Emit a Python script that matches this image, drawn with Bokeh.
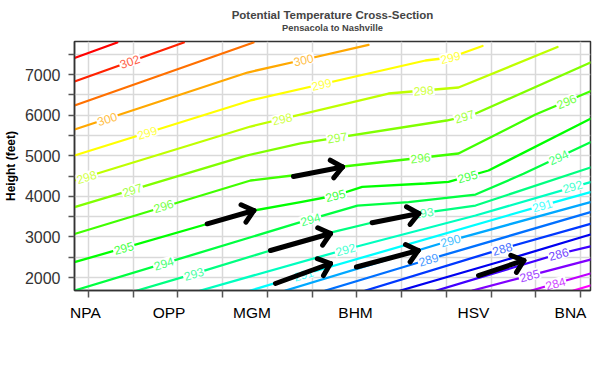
import math
from bokeh.plotting import figure
from bokeh.models import FixedTicker, Range1d, Title
from bokeh.core.properties import value
from bokeh.embed import file_html
from bokeh.resources import INLINE

FONT = "Liberation Sans"

# ---- axes ----
stations = ["NPA", "OPP", "MGM", "BHM", "HSV", "BNA"]
station_x = [-0.07, 1.80, 3.655, 5.97, 8.607, 10.776]
dist_ticks = list(range(0, 12))
height_ticks = [2000, 3000, 4000, 5000, 6000, 7000]
height_minor = [2500, 3500, 4500, 5500, 6500, 7500]
x_lo, x_hi = -0.313, 11.223
h_lo, h_hi = 1680, 7813

# ---- contour lines (distance units, height in feet) ----
x_303 = [-0.313, 0.642]; h_303 = [7406, 7788]
x_302 = [-0.313, 2.131]; h_302 = [6828, 7788]
x_301 = [-0.313, 3.689]; h_301 = [6236, 7788]
x_300 = [-0.313, 3.555, 4.740, 6.260]; h_300 = [5645, 7049, 7345, 7727]
x_299 = [-0.313, 3.622, 7.534, 8.093, 8.808]; h_299 = [5005, 6360, 7345, 7419, 7702]
x_298 = [-0.313, 3.622, 6.707, 8.272, 10.485]; h_298 = [4389, 5719, 6532, 6680, 7677]
x_297 = [-0.313, 3.510, 4.740, 8.004, 8.607, 11.223]; h_297 = [3732, 4998, 5301, 5867, 6015, 7296]
x_296 = [-0.313, 3.622, 4.740, 5.701, 8.272, 9.993, 11.223]; h_296 = [3072, 4389, 4537, 4734, 5054, 6015, 6589]
x_295 = [-0.313, 3.696, 4.740, 5.522, 6.119, 7.534, 8.048, 8.943, 11.223]; h_295 = [2377, 3650, 3855, 4020, 4234, 4315, 4357, 4636, 5909]
x_294 = [-0.313, 4.740, 6.014, 7.154, 8.652, 9.725, 11.223]; h_294 = [1680, 3362, 3773, 3855, 4044, 4554, 5333]
x_293 = [1.089, 2.354, 4.069, 5.410, 6.349, 7.378, 8.652, 11.223]; h_293 = [1680, 2091, 2665, 3108, 3355, 3576, 3773, 4709]
x_292 = [2.504, 5.746, 8.652, 11.223]; h_292 = [1680, 2690, 3527, 4347]
x_291 = [3.622, 4.807, 10.143, 11.223]; h_291 = [1680, 2074, 3773, 4101]
x_290 = [4.404, 8.093, 11.223]; h_290 = [1680, 2911, 3855]
x_289 = [5.298, 7.601, 11.223]; h_289 = [1680, 2443, 3608]
x_288 = [6.193, 9.249, 11.223]; h_288 = [1680, 2707, 3323]
x_287 = [6.975, 9.211, 11.223]; h_287 = [1680, 2394, 3059]
x_286 = [7.780, 10.508, 11.223]; h_286 = [1680, 2579, 2764]
x_285 = [8.585, 9.859, 11.223]; h_285 = [1680, 2049, 2443]
x_284 = [9.904, 10.440, 11.223]; h_284 = [1680, 1852, 2099]
x_283 = [10.843, 11.223]; h_283 = [1680, 1803]

levels = [303, 302, 301, 300, 299, 298, 297, 296, 295, 294, 293,
          292, 291, 290, 289, 288, 287, 286, 285, 284, 283]
level_colors = ["#FF0000", "#FF2200", "#FF7000", "#FFA800", "#FFFF00", "#BFFF00",
                "#80FF00", "#40FF00", "#00FF00", "#00FF40", "#00FF80", "#00FFBF",
                "#00FFFF", "#00A8FF", "#0070FF", "#0038FF", "#0000F0", "#4000FF",
                "#8000FF", "#BF00FF", "#FF00FF"]
line_xs = [x_303, x_302, x_301, x_300, x_299, x_298, x_297, x_296, x_295, x_294, x_293,
           x_292, x_291, x_290, x_289, x_288, x_287, x_286, x_285, x_284, x_283]
line_hs = [h_303, h_302, h_301, h_300, h_299, h_298, h_297, h_296, h_295, h_294, h_293,
           h_292, h_291, h_290, h_289, h_288, h_287, h_286, h_285, h_284, h_283]

# ---- contour labels ----
lab_level = [302, 300, 300, 299, 299, 299, 298, 298, 298, 297, 297, 297,
             296, 296, 296, 295, 295, 295, 294, 294, 294, 293, 293,
             292, 292, 291, 291, 290, 289, 288, 286, 285, 284]
lab_x = [0.923, 0.418, 4.807, 1.312, 5.209, 8.093, -0.045, 4.331, 7.489, 0.977, 5.560, 8.406,
         1.677, 7.422, 10.687, 0.789, 5.522, 8.473, 1.683, 4.963, 10.508, 2.354, 7.489,
         5.746, 10.821, 4.807, 10.143, 8.093, 7.601, 9.249, 10.508, 9.859, 10.440]
lab_h = [7320, 5905, 7362, 5564, 6759, 7419, 4475, 5906, 6606, 4157, 5448, 5966,
         3761, 4948, 6337, 2727, 4020, 4488, 2345, 3434, 4961, 2091, 3594,
         2690, 4241, 2074, 3773, 2911, 2443, 2707, 2579, 2049, 1852]
lab_angle = [19.6, 18.2, 12.8, 17.4, 12.9, 14, 17, 13.4, 4.9, 16.7, 9, 18,
             17, 6.5, 23, 16, 14, 15.5, 17, 16, 25, 16.5, 8,
             15.5, 16, 16.5, 16, 16, 16.5, 16, 15, 15, 16]

# ---- hand-drawn arrows (start -> tip) ----
arrow_x0 = [2.654, 4.069, 4.180, 4.583, 6.342, 5.990, 8.719]
arrow_h0 = [3323, 2665, 1852, 4488, 3347, 2259, 2049]
arrow_x1 = [3.696, 5.410, 5.410, 5.679, 7.384, 7.370, 9.732]
arrow_h1 = [3650, 3084, 2345, 4722, 3576, 2665, 2419]

title_text = "Potential Temperature Cross-Section"
subtitle_text = "Pensacola to Nashville"


def lighten(hexcol, f):
    r, g, b = (int(hexcol[i:i + 2], 16) for i in (1, 3, 5))
    r, g, b = (round(c + (255 - c) * f) for c in (r, g, b))
    return "#%02X%02X%02X" % (r, g, b)


color_of = dict(zip(levels, level_colors))
lab_colors = [lighten(color_of[l], 0.28) for l in lab_level]
lab_text = [str(l) for l in lab_level]

FW, FH = 516, 249
p = figure(width=600, height=365, x_range=Range1d(x_lo, x_hi), y_range=Range1d(h_lo, h_hi),
           output_backend="svg", toolbar_location=None,
           min_border_left=74, min_border_right=10, min_border_top=41, min_border_bottom=75,
           title=title_text)
p.background_fill_color = "white"
p.border_fill_color = "white"
p.outline_line_color = "#333333"
p.outline_line_width = 1.5

# titles: main (outermost), subtitle, and a blank spacer next to the frame
p.title.align = "center"
p.title.text_font = FONT
p.title.text_font_size = "11.5px"
p.title.text_font_style = "bold"
p.title.standoff = 0
p.add_layout(Title(text=" ", align="center", text_font=FONT, text_font_size="7px",
                   standoff=0), "above")
p.add_layout(Title(text=subtitle_text, align="center", text_font=FONT,
                   text_font_size="9.3px", text_font_style="bold", standoff=0), "above")

# grid
p.xgrid.ticker = FixedTicker(ticks=dist_ticks)
p.ygrid.ticker = FixedTicker(ticks=height_ticks + height_minor)
for g in (p.xgrid[0], p.ygrid[0]):
    g.grid_line_color = "#d9d9d9"
    g.grid_line_width = 1.5

# x axis
xa = p.xaxis[0]
xa.ticker = FixedTicker(ticks=station_x, minor_ticks=dist_ticks)
xa.major_label_overrides = {x: s for x, s in zip(station_x, stations)}
xa.major_tick_line_color = None
xa.major_tick_out = 0
xa.major_tick_in = 0
xa.minor_tick_out = 7
xa.minor_tick_in = 0
xa.minor_tick_line_color = "#555555"
xa.minor_tick_line_width = 1.5
xa.major_label_standoff = 6
xa.major_label_text_font = FONT
xa.major_label_text_font_size = "15.5px"
xa.major_label_text_color = "black"
xa.axis_line_color = "#333333"
xa.axis_line_width = 1.5

# y axis
ya = p.yaxis[0]
ya.ticker = FixedTicker(ticks=height_ticks, minor_ticks=height_minor)
ya.major_tick_out = 6
ya.major_tick_in = 0
ya.minor_tick_out = 6
ya.minor_tick_in = 0
ya.major_tick_line_color = "#555555"
ya.minor_tick_line_color = "#555555"
ya.major_tick_line_width = 1.5
ya.minor_tick_line_width = 1.5
ya.major_label_standoff = 8
ya.major_label_text_font = FONT
ya.major_label_text_font_size = "16px"
ya.major_label_text_color = "#333333"
ya.axis_line_color = "#333333"
ya.axis_line_width = 1.5
ya.axis_label = "Height (feet)"
ya.axis_label_text_font = FONT
ya.axis_label_text_font_size = "12px"
ya.axis_label_text_font_style = "bold"
ya.axis_label_text_color = "black"
ya.axis_label_standoff = 4

# contour lines
p.multi_line(xs=line_xs, ys=line_hs, line_color=level_colors, line_width=2.3,
             line_join="round", line_cap="round")

# contour labels with white background
p.text(x=lab_x, y=lab_h, text=lab_text, angle=lab_angle, angle_units="deg",
       text_color=lab_colors, text_font=value(FONT), text_font_size="12px",
       text_align="center", text_baseline="middle",
       background_fill_color="white", padding=1)

# arrows: shaft + open head, geometry in screen space
sx = FW / (x_hi - x_lo)
sy = FH / (h_hi - h_lo)
head_len, head_ang = 14.0, math.radians(40)
seg_x0, seg_y0, seg_x1, seg_y1 = [], [], [], []
for x0, y0, x1, y1 in zip(arrow_x0, arrow_h0, arrow_x1, arrow_h1):
    seg_x0.append(x0); seg_y0.append(y0); seg_x1.append(x1); seg_y1.append(y1)
    ang = math.atan2((y1 - y0) * sy, (x1 - x0) * sx) + math.pi
    for s in (-1, 1):
        a = ang + s * head_ang
        seg_x0.append(x1); seg_y0.append(y1)
        seg_x1.append(x1 + head_len * math.cos(a) / sx)
        seg_y1.append(y1 + head_len * math.sin(a) / sy)
p.segment(x0=seg_x0, y0=seg_y0, x1=seg_x1, y1=seg_y1, line_color="black",
          line_width=5, line_cap="round")

open("out.html", "w").write(file_html(p, INLINE))
